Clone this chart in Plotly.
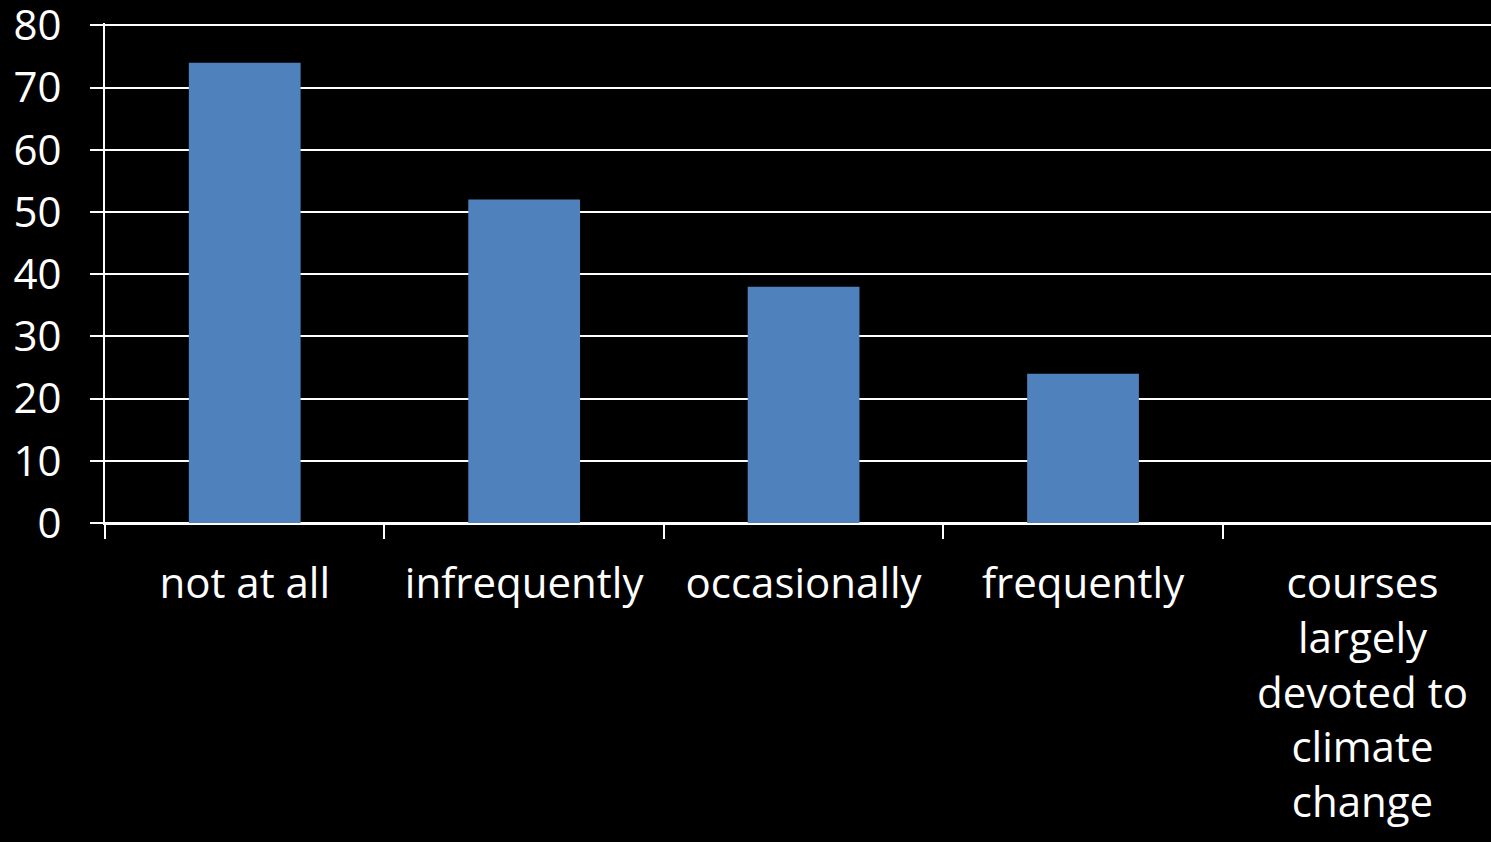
import plotly.graph_objects as go

categories = ["not at all", "infrequently", "occasionally", "frequently",
              "courses<br>largely<br>devoted to<br>climate<br>change"]
values = [74, 52, 38, 24, 0]
y_ticks = [0, 10, 20, 30, 40, 50, 60, 70, 80]

FONT = "Open Sans"

fig = go.Figure(go.Bar(x=categories, y=values, marker=dict(color="#4F81BD", line=dict(width=0))))

fig.update_layout(
    width=1491, height=842,
    paper_bgcolor="black", plot_bgcolor="black",
    margin=dict(l=105, r=0, t=23, b=319),
    bargap=0.6,
    showlegend=False,
    font=dict(family=FONT, color="white", size=42),
)
fig.update_xaxes(
    range=[-0.5, 4.46], automargin=False,
    showgrid=False, showline=True, linecolor="white", linewidth=2,
    ticks="outside", tickson="boundaries", ticklen=14, tickcolor="white", tickwidth=2,
    tickfont=dict(family=FONT, size=42, color="white"),
    ticklabelstandoff=23, ticklabeloverflow="allow",
)
fig.update_yaxes(
    range=[0, 80.4], tickvals=y_ticks, automargin=False,
    showgrid=True, gridcolor="white", gridwidth=2,
    showline=True, linecolor="white", linewidth=2,
    zeroline=True, zerolinecolor="white", zerolinewidth=2,
    ticks="outside", ticklen=13, tickcolor="white", tickwidth=2,
    tickfont=dict(family=FONT, size=42, color="white"),
    ticklabelstandoff=20,
    ticklabeloverflow="allow",
)

fig.write_html("out.html")
